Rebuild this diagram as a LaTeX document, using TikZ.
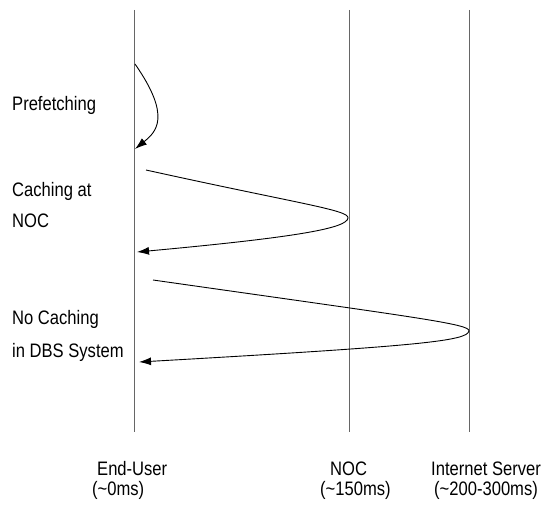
\documentclass[tikz,border=0pt]{standalone}
\usepackage{fontspec}
\setmainfont{Liberation Sans}[FakeStretch=0.85]
\usepackage{tikz}
\usetikzlibrary{arrows.meta,positioning}

\tikzset{
  lifeline/.style={draw=black!60, line width=0.9pt},
  msg/.style={draw=black, line width=0.9pt, -{Latex[length=12pt,width=8pt]}},
  lbl/.style={inner sep=0pt, anchor=base west, font=\fontsize{19.5}{21}\selectfont},
}

\begin{document}
\begin{tikzpicture}[x=1pt,y=-1pt]
\useasboundingbox (0,0) rectangle (545,505);
% lifelines
\coordinate (eu top) at (134,10);   \coordinate (eu bot) at (134,432);
\coordinate (noc top) at (349,10);  \coordinate (noc bot) at (349,432);
\coordinate (srv top) at (469,10);  \coordinate (srv bot) at (469,432);
\draw[lifeline] (eu top) -- (eu bot);
\draw[lifeline] (noc top) -- (noc bot);
\draw[lifeline] (srv top) -- (srv bot);
% prefetching
\coordinate (pf s) at (135,64);
\coordinate (pf e) at (135,149);
\draw[msg] (pf s) .. controls (172,117) and (156,132) .. (pf e);
% caching at NOC
\coordinate (cn s) at (146,170);
\coordinate (cn tip) at (348,218);
\coordinate (cn e) at (137,252);
\draw[msg] (cn s) .. controls (300,204) and (349,210) .. (cn tip)
           .. controls (347,228) and (300,237) .. (cn e);
% no caching
\coordinate (nc s) at (153,280);
\coordinate (nc tip) at (469,331);
\coordinate (nc e) at (139,362);
\draw[msg] (nc s) .. controls (420,318) and (470,324) .. (nc tip)
           .. controls (467,341) and (420,346) .. (nc e);
% left labels
\node[lbl] (pf) at (12,111) {Prefetching};
\node[lbl] (cn1) at (12,196) {Caching at};
\node[lbl] (cn2) at (12,227) {NOC};
\node[lbl] (nc1) at (12,324) {No Caching};
\node[lbl] (nc2) at (12,357) {in DBS System};
% bottom labels
\node[lbl] (eu) at (97,475) {End-User};
\node[lbl] (eu ms) at (92,495) {(\textasciitilde 0ms)};
\node[lbl] (noc) at (330,475) {NOC};
\node[lbl] (noc ms) at (320,495) {(\textasciitilde 150ms)};
\node[lbl] (srv) at (431,475) {Internet Server};
\node[lbl] (srv ms) at (434,495) {(\textasciitilde 200-300ms)};
\end{tikzpicture}
\end{document}
